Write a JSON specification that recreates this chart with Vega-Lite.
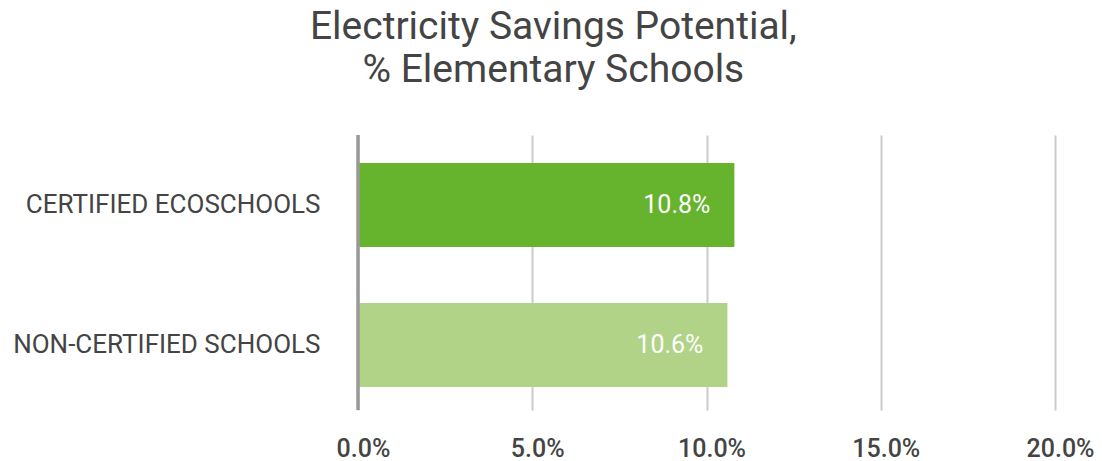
{
  "$schema": "https://vega.github.io/schema/vega-lite/v6.json",
  "width": 697,
  "height": 275,
  "autosize": {"type": "none"},
  "padding": {"left": 358, "top": 135, "right": 47, "bottom": 51},
  "background": "white",
  "title": {
    "text": ["Electricity Savings Potential,", "% Elementary Schools"],
    "font": "Roboto",
    "fontSize": 39,
    "fontWeight": "normal",
    "color": "#444444",
    "lineHeight": 43,
    "anchor": "middle",
    "frame": "bounds",
    "offset": 44
  },
  "data": {
    "values": [
      {"group": "CERTIFIED ECOSCHOOLS", "value": 0.108},
      {"group": "NON-CERTIFIED SCHOOLS", "value": 0.106}
    ]
  },
  "config": {
    "view": {"stroke": null},
    "axis": {"labelFont": "Roboto", "labelColor": "#444444"}
  },
  "encoding": {
    "y": {
      "field": "group",
      "type": "nominal",
      "sort": null,
      "scale": {"paddingInner": 0.4, "paddingOuter": 0.182, "align": 0.55},
      "axis": {
        "title": null,
        "ticks": false,
        "domain": false,
        "labelFontSize": 26,
        "labelLimit": 400,
        "labelPadding": 38,
        "labelColor": "#444444"
      }
    },
    "x": {
      "field": "value",
      "type": "quantitative",
      "scale": {"domain": [0, 0.2], "nice": false},
      "axis": {
        "title": null,
        "values": [0, 0.05, 0.1, 0.15, 0.2],
        "format": ".1%",
        "ticks": false,
        "domain": false,
        "grid": true,
        "gridColor": "#cccccc",
        "gridWidth": 2,
        "labelFlush": false,
        "labelFontSize": 25,
        "labelFontWeight": 500,
        "labelPadding": 26,
        "labelOffset": 5,
        "labelColor": "#444444"
      }
    }
  },
  "layer": [
    {
      "mark": {"type": "bar"},
      "encoding": {
        "color": {
          "field": "group",
          "type": "nominal",
          "scale": {
            "domain": ["CERTIFIED ECOSCHOOLS", "NON-CERTIFIED SCHOOLS"],
            "range": ["#66b32e", "#b0d388"]
          },
          "legend": null
        }
      }
    },
    {
      "mark": {"type": "rule", "color": "#999999", "strokeWidth": 3},
      "encoding": {"x": {"datum": 0}, "y": null}
    },
    {
      "mark": {
        "type": "text",
        "align": "right",
        "baseline": "middle",
        "dx": -24,
        "font": "Roboto",
        "fontSize": 25,
        "color": "white"
      },
      "encoding": {
        "text": {"field": "value", "type": "quantitative", "format": ".1%"}
      }
    }
  ]
}
